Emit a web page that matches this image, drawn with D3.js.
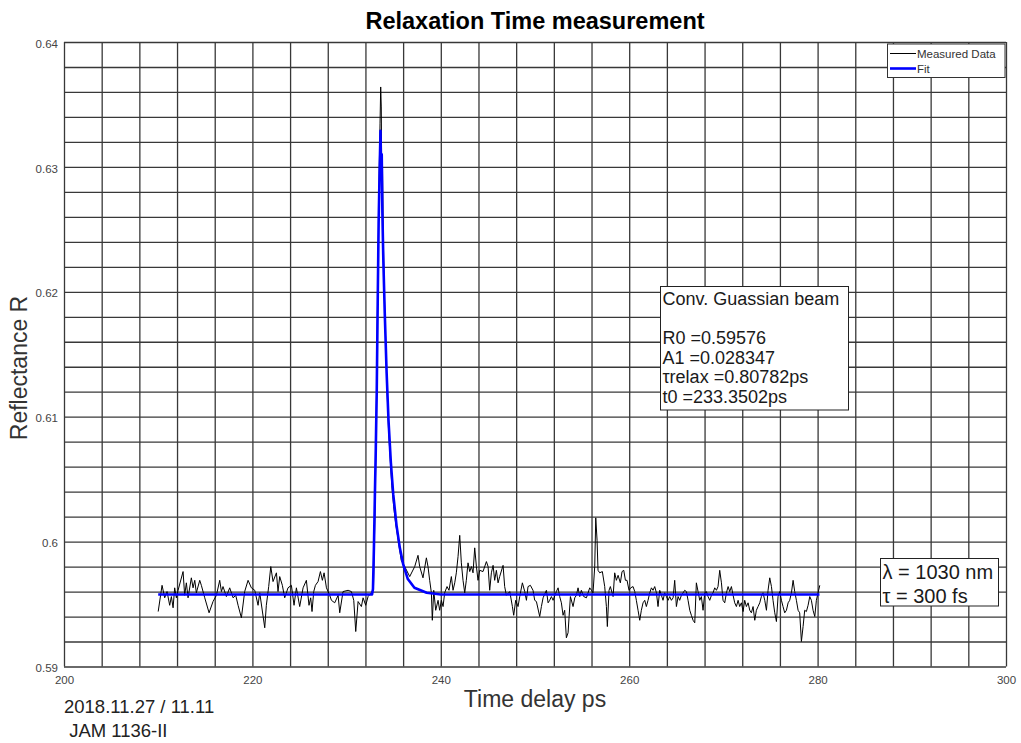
<!DOCTYPE html>
<html>
<head>
<meta charset="utf-8">
<script src="https://cdn.jsdelivr.net/npm/d3@7"></script>
<style>
  body { margin: 0; background: #fff; }
  text { font-family: "Liberation Sans", Arial, sans-serif; }
</style>
</head>
<body>
<script>
// x range and labelled ticks
var xDomain = [200, 300];
var xTickLabels = [200, 220, 240, 260, 280, 300];
var xGridStep = 4;

// y range and labelled ticks
var yDomain = [0.59, 0.64];
var yTickLabels = [0.59, 0.60, 0.61, 0.62, 0.63, 0.64];
var yGridStep = 0.002;

var measuredData = [
  [210.00, 0.5944], [210.41, 0.5965], [210.69, 0.5955], [210.94, 0.5960], [211.22, 0.5949],
  [211.40, 0.5956], [211.58, 0.5947], [211.75, 0.5963], [211.93, 0.5955], [212.11, 0.5961],
  [212.64, 0.5976], [212.81, 0.5957], [212.99, 0.5967], [213.17, 0.5955], [213.52, 0.5971],
  [213.70, 0.5963], [213.88, 0.5969], [214.05, 0.5959], [214.41, 0.5969], [214.58, 0.5965],
  [214.94, 0.5955], [215.40, 0.5943], [215.82, 0.5952], [216.18, 0.5957], [216.53, 0.5969],
  [216.71, 0.5960], [216.88, 0.5964], [217.24, 0.5956], [217.59, 0.5963], [217.95, 0.5955],
  [218.23, 0.5957], [218.48, 0.5949], [218.83, 0.5939], [219.18, 0.5960], [219.54, 0.5969],
  [219.89, 0.5963], [220.25, 0.5961], [220.60, 0.5949], [220.78, 0.5959], [221.31, 0.5931],
  [221.48, 0.5949], [221.73, 0.5964], [221.95, 0.5980], [222.19, 0.5968], [222.55, 0.5975],
  [222.72, 0.5960], [222.90, 0.5972], [223.18, 0.5965], [223.43, 0.5955], [223.78, 0.5963],
  [224.14, 0.5965], [224.42, 0.5949], [224.67, 0.5963], [225.02, 0.5948], [225.38, 0.5963],
  [225.73, 0.5969], [226.01, 0.5949], [226.19, 0.5955], [226.33, 0.5944], [226.51, 0.5960],
  [226.69, 0.5965], [226.97, 0.5968], [227.22, 0.5976], [227.43, 0.5969], [227.61, 0.5975],
  [227.86, 0.5963], [228.21, 0.5957], [228.39, 0.5953], [228.74, 0.5951], [229.10, 0.5957],
  [229.27, 0.5943], [229.62, 0.5960], [230.16, 0.5961], [230.51, 0.5960], [230.76, 0.5953],
  [230.97, 0.5928], [231.22, 0.5952], [231.57, 0.5948], [231.75, 0.5955], [232.03, 0.5949],
  [232.28, 0.5956], [232.63, 0.5959],
  [232.85, 0.5962], [232.95, 0.6000], [233.05, 0.6040], [233.15, 0.6100], [233.25, 0.6170],
  [233.35, 0.6230], [233.45, 0.6290], [233.55, 0.6335], [233.62, 0.6364], [233.68, 0.6348],
  [233.74, 0.6280], [233.80, 0.6310], [233.88, 0.6250], [234.00, 0.6200], [234.15, 0.6160],
  [234.30, 0.6120], [234.45, 0.6090], [234.60, 0.6070], [234.80, 0.6045], [235.00, 0.6028],
  [235.20, 0.6015], [235.40, 0.6005], [235.60, 0.5995], [235.80, 0.5985], [236.00, 0.5982],
  [236.17, 0.5980], [236.70, 0.5972], [237.23, 0.5980], [237.58, 0.5989], [237.76, 0.5980],
  [238.11, 0.5971], [238.47, 0.5987], [238.64, 0.5980], [238.82, 0.5969], [239.00, 0.5959],
  [239.10, 0.5937], [239.25, 0.5961], [239.46, 0.5945], [239.71, 0.5953], [239.88, 0.5945],
  [240.06, 0.5953], [240.24, 0.5948], [240.41, 0.5959], [240.66, 0.5964], [240.87, 0.5961],
  [241.12, 0.5972], [241.30, 0.5961], [241.48, 0.5967], [241.65, 0.5975], [241.83, 0.5988],
  [242.01, 0.6005], [242.18, 0.5983], [242.36, 0.5969], [242.54, 0.5959], [242.71, 0.5969],
  [242.89, 0.5983], [243.07, 0.5976], [243.25, 0.5980], [243.42, 0.5975], [243.60, 0.5995],
  [243.78, 0.5980], [243.95, 0.5969], [244.13, 0.5977], [244.48, 0.5976], [244.84, 0.5984],
  [245.02, 0.5980], [245.19, 0.5961], [245.37, 0.5975], [245.55, 0.5981], [245.72, 0.5969],
  [245.90, 0.5977], [246.08, 0.5967], [246.25, 0.5972], [246.61, 0.5981], [246.78, 0.5964],
  [246.96, 0.5957], [247.32, 0.5960], [247.60, 0.5948], [247.74, 0.5941], [247.95, 0.5953],
  [248.20, 0.5948], [248.38, 0.5956], [248.66, 0.5967], [248.91, 0.5960], [249.09, 0.5953],
  [249.26, 0.5964], [249.51, 0.5965], [249.79, 0.5961], [249.97, 0.5953], [250.15, 0.5952],
  [250.50, 0.5940], [250.68, 0.5948], [250.86, 0.5955], [251.21, 0.5961], [251.39, 0.5951],
  [251.56, 0.5953], [251.74, 0.5956], [251.92, 0.5953], [252.27, 0.5960], [252.45, 0.5963],
  [252.62, 0.5956], [252.80, 0.5951], [252.98, 0.5941], [253.15, 0.5945], [253.33, 0.5923],
  [253.51, 0.5927], [253.62, 0.5940], [253.76, 0.5956], [254.04, 0.5948], [254.22, 0.5955],
  [254.39, 0.5957], [254.57, 0.5963], [254.75, 0.5956], [254.92, 0.5961], [255.17, 0.5956],
  [255.46, 0.5955], [255.81, 0.5963], [255.99, 0.5961], [256.16, 0.5959], [256.34, 0.5980],
  [256.45, 0.6019], [256.59, 0.6001], [256.69, 0.5977], [256.87, 0.5975], [257.15, 0.5976],
  [257.40, 0.5964], [257.58, 0.5948], [257.68, 0.5932], [257.86, 0.5961], [258.00, 0.5964],
  [258.29, 0.5956], [258.46, 0.5975], [258.64, 0.5969], [258.82, 0.5973],
  [259.06, 0.5967], [259.24, 0.5976], [259.42, 0.5977], [259.60, 0.5969], [259.77, 0.5969],
  [259.98, 0.5961], [260.16, 0.5963], [260.41, 0.5964], [260.59, 0.5960], [260.76, 0.5953],
  [260.94, 0.5945], [261.12, 0.5937], [261.29, 0.5945], [261.47, 0.5951], [261.65, 0.5953],
  [261.82, 0.5948], [262.00, 0.5953], [262.18, 0.5959], [262.36, 0.5963], [262.53, 0.5961],
  [262.71, 0.5964], [262.89, 0.5959], [263.06, 0.5948], [263.24, 0.5961], [263.42, 0.5957],
  [263.59, 0.5953], [263.77, 0.5959], [263.95, 0.5956], [264.13, 0.5953], [264.30, 0.5956],
  [264.48, 0.5953], [264.66, 0.5955], [264.83, 0.5969], [265.01, 0.5948], [265.19, 0.5956],
  [265.36, 0.5953], [265.54, 0.5957], [265.72, 0.5959], [265.89, 0.5961], [266.07, 0.5960],
  [266.25, 0.5953], [266.43, 0.5945], [266.60, 0.5941], [266.78, 0.5937], [266.96, 0.5935],
  [267.13, 0.5967], [267.31, 0.5960], [267.49, 0.5953], [267.66, 0.5956], [267.84, 0.5945],
  [268.02, 0.5959], [268.19, 0.5960], [268.37, 0.5956], [268.55, 0.5953], [268.73, 0.5957],
  [268.90, 0.5959], [269.08, 0.5963], [269.26, 0.5961], [269.43, 0.5964], [269.61, 0.5977],
  [269.79, 0.5967], [269.96, 0.5953], [270.14, 0.5951], [270.32, 0.5959], [270.50, 0.5964],
  [270.67, 0.5960], [270.85, 0.5964], [271.03, 0.5957], [271.20, 0.5951], [271.38, 0.5948],
  [271.56, 0.5953], [271.73, 0.5948], [271.91, 0.5951], [272.09, 0.5944], [272.26, 0.5953],
  [272.44, 0.5948], [272.62, 0.5951], [272.80, 0.5945], [272.97, 0.5943], [273.15, 0.5948],
  [273.33, 0.5937], [273.50, 0.5945], [273.68, 0.5948], [273.86, 0.5951], [274.03, 0.5956],
  [274.21, 0.5959], [274.39, 0.5953], [274.57, 0.5945], [274.74, 0.5961], [274.92, 0.5971],
  [275.10, 0.5964], [275.27, 0.5953], [275.45, 0.5943], [275.63, 0.5936], [275.80, 0.5956],
  [275.98, 0.5960], [276.16, 0.5953], [276.33, 0.5948], [276.51, 0.5943], [276.69, 0.5945],
  [276.87, 0.5951], [277.04, 0.5953], [277.22, 0.5959], [277.40, 0.5969], [277.57, 0.5960],
  [277.75, 0.5953], [277.93, 0.5945], [278.10, 0.5943], [278.28, 0.5920], [278.46, 0.5932],
  [278.63, 0.5945], [278.81, 0.5944], [278.99, 0.5949], [279.17, 0.5956], [279.34, 0.5953],
  [279.52, 0.5945], [279.70, 0.5940], [279.87, 0.5953], [280.05, 0.5959], [280.23, 0.5965]
];

// fitted curve [time delay ps, reflectance]
var fitData = [
  [210.00, 0.59576], [232.70, 0.59576], [232.80, 0.5962], [232.90, 0.5995], [233.00, 0.6036],
  [233.10, 0.6075], [233.20, 0.6120], [233.30, 0.6190], [233.40, 0.6255], [233.50, 0.6295],
  [233.60, 0.6329], [233.67, 0.6290], [233.73, 0.6310], [233.80, 0.6263], [233.90, 0.6225],
  [234.05, 0.6183], [234.25, 0.6135], [234.45, 0.6097], [234.70, 0.6063], [234.95, 0.6038],
  [235.30, 0.6013], [235.65, 0.5995], [236.00, 0.5982], [236.50, 0.5970], [237.20, 0.5963],
  [238.50, 0.5959], [240.00, 0.59577], [280.20, 0.59576]
];

var legendLabels = ["Measured Data", "Fit"];
var fitText = ["Conv. Guassian beam", "", "R0 =0.59576", "A1 =0.028347", "\u03c4relax =0.80782ps", "t0 =233.3502ps"];
var laserText = ["\u03bb = 1030 nm", "\u03c4 = 300 fs"];
var footText = ["2018.11.27 / 11.11", " JAM 1136-II"];

class RelaxPlot {
  constructor(width, height, margin) {
    this.width = width;
    this.height = height;
    this.margin = margin;

    this.svg = d3.select("body").append("svg")
      .attr("width", width + margin.left + margin.right)
      .attr("height", height + margin.top + margin.bottom);

    this.canvas = this.svg.append("g")
      .attr("transform", "translate(" + margin.left + "," + margin.top + ")");

    this.x = d3.scaleLinear().domain(xDomain).range([0, width]);
    this.y = d3.scaleLinear().domain(yDomain).range([height, 0]);
  };

  grid() {
    var canvas = this.canvas, x = this.x, y = this.y;
    var xGrid = d3.range(xDomain[0], xDomain[1] + 0.001, xGridStep);
    var yGrid = d3.range(0, 26).map(function(i) { return yDomain[0] + i * yGridStep; });

    // vertical grid lines
    canvas.append("g")
      .attr("class", "grid")
      .attr("transform", "translate(0," + this.height + ")")
      .call(d3.axisBottom(x).tickValues(xGrid).tickSize(-this.height).tickFormat(""));

    // horizontal grid lines
    canvas.append("g")
      .attr("class", "grid")
      .call(d3.axisLeft(y).tickValues(yGrid).tickSize(-this.width).tickFormat(""));

    canvas.selectAll(".grid line")
      .attr("stroke", "#383838")
      .attr("stroke-width", 1.3);
    canvas.selectAll(".grid .domain").remove();

    // add the x Axis labels
    var xa = canvas.append("g")
      .attr("transform", "translate(0," + this.height + ")")
      .call(d3.axisBottom(x).tickValues(xTickLabels).tickSize(0).tickPadding(9).tickFormat(d3.format("d")));
    // add the y Axis labels
    var ya = canvas.append("g")
      .call(d3.axisLeft(y).tickValues(yTickLabels).tickSize(0).tickPadding(6)
        .tickFormat(function(d) { return String(+d.toFixed(2)); }));

    [xa, ya].forEach(function(a) {
      a.select(".domain").remove();
      a.selectAll("text")
        .attr("fill", "#444")
        .style("font-size", "11.5px")
        .style("font-family", "'Liberation Sans', Arial, sans-serif");
    });
    ya.selectAll("text").attr("dy", "0.45em");
  };

  plot() {
    var x = this.x, y = this.y;
    var line = d3.line()
      .x(function(d) { return x(d[0]); })
      .y(function(d) { return y(d[1]); });

    this.canvas.append("path")
      .datum(measuredData)
      .attr("fill", "none")
      .attr("stroke", "#000")
      .attr("stroke-width", 1)
      .attr("d", line);

    this.canvas.append("path")
      .datum(fitData)
      .attr("fill", "none")
      .attr("stroke", "#0000ff")
      .attr("stroke-width", 2.6)
      .attr("stroke-linejoin", "round")
      .attr("d", line);
  };

  textBox(lines, left, top, w, h, first, step, size) {
    var g = this.svg.append("g");
    g.append("rect")
      .attr("x", left).attr("y", top)
      .attr("width", w).attr("height", h)
      .attr("fill", "#fff")
      .attr("stroke", "#222")
      .attr("stroke-width", 1);
    g.selectAll("text")
      .data(lines)
      .enter()
        .append("text")
          .attr("x", left + 2)
          .attr("y", function(d, i) { return first + i * step; })
          .attr("fill", "#1a1a1a")
          .style("font-size", size + "px")
          .style("white-space", "pre")
          .text(function(d) { return d; });
  };

  legend() {
    var g = this.svg.append("g");
    g.append("rect")
      .attr("x", 887.5).attr("y", 44)
      .attr("width", 117.5).attr("height", 33.5)
      .attr("fill", "#fff")
      .attr("stroke", "#333");
    var item = g.selectAll("g.item")
      .data(legendLabels)
      .enter()
        .append("g")
          .attr("transform", function(d, i) { return "translate(890," + (53.5 + i * 15) + ")"; });
    item.append("line")
      .attr("x1", 0).attr("x2", 26)
      .attr("stroke", function(d, i) { return i == 0 ? "#000" : "#0000ff"; })
      .attr("stroke-width", function(d, i) { return i == 0 ? 1 : 2.6; });
    item.append("text")
      .attr("x", 27)
      .attr("y", 4)
      .attr("fill", "#333")
      .style("font-size", "11.5px")
      .text(function(d) { return d; });
  };

  labels() {
    var svg = this.svg, m = this.margin;

    svg.append("text")
      .attr("x", m.left + this.width / 2)
      .attr("y", 29)
      .attr("text-anchor", "middle")
      .style("font-size", "23.5px")
      .style("font-weight", "bold")
      .text("Relaxation Time measurement");

    svg.append("text")
      .attr("x", m.left + this.width / 2)
      .attr("y", 707)
      .attr("text-anchor", "middle")
      .attr("fill", "#333")
      .style("font-size", "23px")
      .text("Time delay ps");

    svg.append("text")
      .attr("transform", "translate(27,368) rotate(-90)")
      .attr("text-anchor", "middle")
      .attr("fill", "#333")
      .style("font-size", "23px")
      .text("Reflectance R");

    svg.selectAll("text.foot")
      .data(footText)
      .enter()
        .append("text")
          .attr("class", "foot")
          .attr("x", 64)
          .attr("y", function(d, i) { return 713 + i * 23.5; })
          .attr("fill", "#222")
          .style("font-size", "18.5px")
          .style("white-space", "pre")
          .text(function(d) { return d; });
  };
};

var plot = new RelaxPlot(942, 624.5, {top: 42, right: 15, bottom: 76.5, left: 64});
plot.grid();
plot.plot();
plot.legend();
plot.textBox(fitText, 660.5, 286.5, 188, 123.5, 305, 19.6, 18);
plot.textBox(laserText, 880.5, 558.5, 118, 47.5, 578.5, 24.7, 20);
plot.labels();
</script>
</body>
</html>
